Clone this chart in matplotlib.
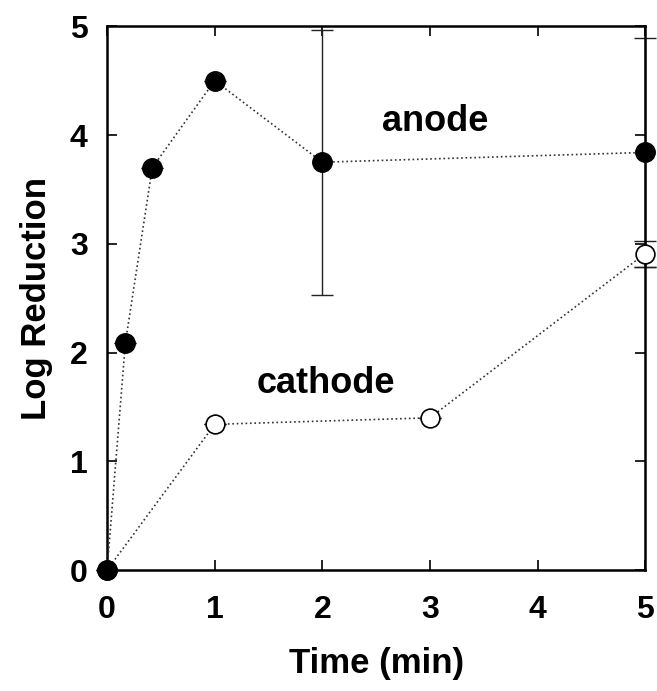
import matplotlib
matplotlib.use("Agg")
import matplotlib.pyplot as plt

plt.rcParams['font.family'] = ['Liberation Sans', 'DejaVu Sans']
plt.rcParams['font.weight'] = 'bold'

# anode
anode_t = [0, 0.17, 0.42, 1, 2, 5]
anode_lr = [0, 2.09, 3.70, 4.50, 3.75, 3.84]
anode_err = [0, 0, 0, 0, 1.22, 1.05]

# cathode
cathode_t = [0, 1, 3, 5]
cathode_lr = [0, 1.34, 1.40, 2.91]
cathode_err = [0, 0, 0, 0.12]

fig = plt.figure(figsize=(6.57, 6.91), dpi=100)
ax = fig.add_axes([0.163, 0.175, 0.819, 0.787])

ax.errorbar(anode_t, anode_lr, yerr=anode_err, fmt='none', ecolor='#222222',
            elinewidth=1, capsize=8, capthick=1, clip_on=False, zorder=2)
ax.errorbar(cathode_t, cathode_lr, yerr=cathode_err, fmt='none', ecolor='#222222',
            elinewidth=1, capsize=8, capthick=1, clip_on=False, zorder=2)

ax.plot(cathode_t, cathode_lr, linestyle=':', color='#333333', lw=1.2,
        marker='o', ms=13.5, mfc='white', mec='black', mew=1.2, clip_on=False, zorder=3)
ax.plot(anode_t, anode_lr, linestyle=':', color='#333333', lw=1.2,
        marker='o', ms=14, mfc='black', mec='black', clip_on=False, zorder=4)

ax.text(3.05, 4.12, 'anode', fontsize=26, fontweight='bold', ha='center', va='center')
ax.text(2.03, 1.72, 'cathode', fontsize=26, fontweight='bold', ha='center', va='center')

ax.set_xlim(0, 5)
ax.set_ylim(0, 5)
ax.set_xticks([0, 1, 2, 3, 4, 5])
ax.set_yticks([0, 1, 2, 3, 4, 5])
ax.tick_params(direction='in', top=True, right=True, length=7, width=1.2,
               labelsize=23)
ax.tick_params(axis='x', pad=18)
ax.tick_params(axis='y', pad=14)
for lab in ax.get_xticklabels() + ax.get_yticklabels():
    lab.set_fontweight('bold')
for sp in ax.spines.values():
    sp.set_linewidth(1.8)

ax.set_xlabel('Time (min)', fontsize=25, fontweight='bold', labelpad=16)
ax.set_ylabel('Log Reduction', fontsize=25, fontweight='bold', labelpad=12)

fig.savefig('out.png', dpi=100)
